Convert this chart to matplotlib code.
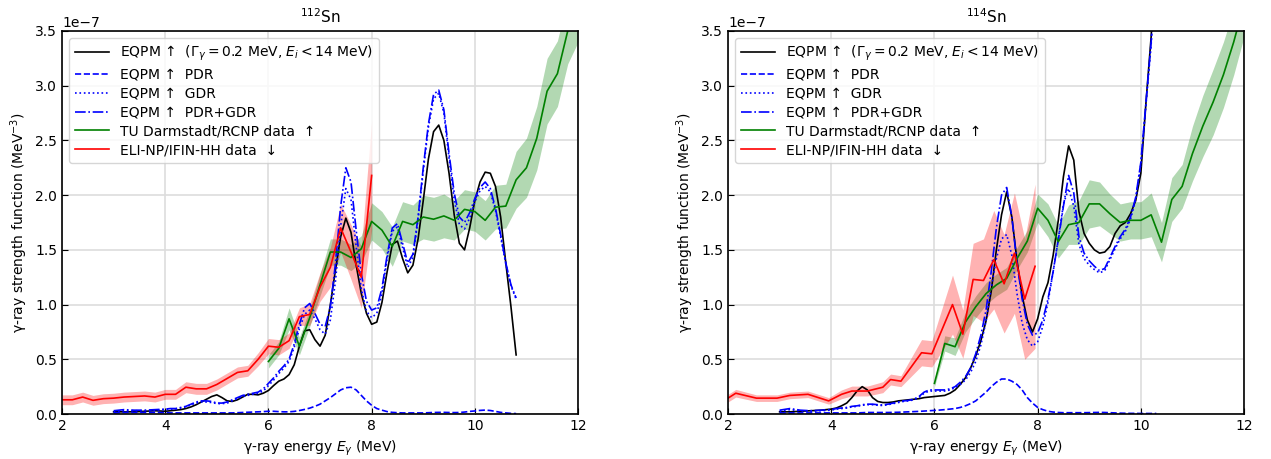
import numpy as np
import matplotlib
matplotlib.use("Agg")
import matplotlib.pyplot as plt

# ---------------- data: 112Sn (left) ----------------
E_th_112 = [3.0, 3.2, 3.4, 3.6, 3.8,
            4.0, 4.1, 4.2, 4.3, 4.4, 4.5, 4.6, 4.7, 4.8, 4.9,
            5.0, 5.1, 5.2, 5.3, 5.4, 5.5, 5.6, 5.7, 5.8, 5.9,
            6.0, 6.1, 6.2, 6.3, 6.4, 6.5, 6.6, 6.7, 6.8, 6.9,
            7.0, 7.1, 7.2, 7.3, 7.4, 7.5, 7.6, 7.7, 7.8, 7.9,
            8.0, 8.1, 8.2, 8.3, 8.4, 8.5, 8.6, 8.7, 8.8, 8.9,
            9.0, 9.1, 9.2, 9.3, 9.4, 9.5, 9.6, 9.7, 9.8, 9.9,
            10.0, 10.1, 10.2, 10.3, 10.4, 10.5, 10.6, 10.7, 10.8]
eqpm_112 = [0.02, 0.02, 0.02, 0.025, 0.03,
            0.025, 0.03, 0.035, 0.04, 0.05, 0.065, 0.085, 0.11, 0.135, 0.16,
            0.175, 0.15, 0.12, 0.115, 0.13, 0.155, 0.18, 0.18, 0.175, 0.19,
            0.215, 0.26, 0.30, 0.32, 0.36, 0.45, 0.62, 0.76, 0.77, 0.68,
            0.62, 0.72, 1.00, 1.32, 1.62, 1.79, 1.66, 1.36, 1.10, 0.92,
            0.82, 0.84, 1.02, 1.30, 1.55, 1.58, 1.42, 1.29, 1.36, 1.60,
            1.95, 2.33, 2.58, 2.64, 2.50, 2.20, 1.82, 1.56, 1.50, 1.70,
            1.95, 2.12, 2.21, 2.20, 2.08, 1.80, 1.38, 0.98, 0.54]
pdr_112 = [0.01, 0.015, 0.015, 0.015, 0.015,
           0.012, 0.01, 0.01, 0.01, 0.01, 0.01, 0.01, 0.01, 0.01, 0.01,
           0.01, 0.01, 0.01, 0.01, 0.012, 0.014, 0.016, 0.018, 0.02, 0.022,
           0.025, 0.025, 0.022, 0.02, 0.02, 0.024, 0.032, 0.042, 0.054, 0.07,
           0.09, 0.12, 0.15, 0.185, 0.22, 0.24, 0.245, 0.22, 0.17, 0.12,
           0.08, 0.05, 0.035, 0.022, 0.015, 0.012, 0.01, 0.01, 0.01, 0.01,
           0.01, 0.012, 0.014, 0.015, 0.015, 0.014, 0.013, 0.014, 0.018, 0.024,
           0.028, 0.033, 0.036, 0.032, 0.024, 0.015, 0.01, 0.006, 0.004]
gdr_112 = [0.02, 0.03, 0.03, 0.03, 0.035,
           0.04, 0.045, 0.045, 0.055, 0.065, 0.085, 0.10, 0.11, 0.11, 0.105,
           0.095, 0.095, 0.10, 0.12, 0.14, 0.16, 0.17, 0.18, 0.19, 0.21,
           0.26, 0.31, 0.37, 0.42, 0.48, 0.61, 0.78, 0.91, 0.95, 0.87,
           0.77, 0.73, 0.86, 1.22, 1.72, 2.06, 1.96, 1.53, 1.14, 0.94,
           0.88, 0.92, 1.10, 1.42, 1.67, 1.71, 1.52, 1.34, 1.43, 1.78,
           2.22, 2.62, 2.88, 2.93, 2.75, 2.34, 1.96, 1.73, 1.69, 1.79,
           1.94, 2.04, 2.08, 2.03, 1.86, 1.62, 1.37, 1.17, 1.05]
sum_112 = [0.03, 0.04, 0.035, 0.035, 0.04,
           0.045, 0.05, 0.05, 0.06, 0.07, 0.09, 0.11, 0.12, 0.12, 0.115,
           0.10, 0.10, 0.11, 0.13, 0.15, 0.17, 0.18, 0.19, 0.20, 0.23,
           0.28, 0.33, 0.39, 0.44, 0.50, 0.64, 0.82, 0.97, 1.01, 0.92,
           0.82, 0.80, 0.98, 1.38, 1.90, 2.25, 2.12, 1.68, 1.28, 1.03,
           0.95, 0.97, 1.15, 1.45, 1.70, 1.74, 1.56, 1.38, 1.46, 1.80,
           2.25, 2.65, 2.92, 2.96, 2.78, 2.38, 2.02, 1.80, 1.75, 1.84,
           1.97, 2.07, 2.12, 2.06, 1.88, 1.64, 1.38, 1.18, 1.06]

E_tu_112 = [6.0, 6.2, 6.4, 6.6, 6.8, 7.0, 7.2, 7.4, 7.6, 7.8, 8.0, 8.2, 8.4, 8.6, 8.8,
            9.0, 9.2, 9.4, 9.6, 9.8, 10.0, 10.2, 10.4, 10.6, 10.8, 11.0, 11.2, 11.4,
            11.6, 11.8, 12.0]
tu_112 = [0.48, 0.60, 0.87, 0.62, 0.88, 1.18, 1.48, 1.48, 1.43, 1.51, 1.76, 1.68, 1.53,
          1.76, 1.73, 1.80, 1.78, 1.81, 1.77, 1.87, 1.85, 1.77, 1.89, 1.90, 2.14, 2.25,
          2.52, 2.95, 3.11, 3.50, 3.70]
tu_err_112 = [0.06, 0.06, 0.10, 0.08, 0.08, 0.10, 0.12, 0.12, 0.12, 0.12, 0.17, 0.17,
              0.18, 0.18, 0.18, 0.2, 0.2, 0.2, 0.18, 0.18, 0.18, 0.18, 0.2, 0.2, 0.26,
              0.27, 0.29, 0.3, 0.3, 0.3, 0.3]

E_eli_112 = [2.0, 2.2, 2.4, 2.6, 2.8, 3.0, 3.2, 3.4, 3.6, 3.8, 4.0, 4.2, 4.4, 4.6, 4.8,
             5.0, 5.2, 5.4, 5.6, 5.8, 6.0, 6.2, 6.4, 6.6, 6.8, 7.0, 7.2, 7.4, 7.6, 7.8, 8.0]
eli_112 = [0.13, 0.13, 0.155, 0.125, 0.14, 0.145, 0.155, 0.16, 0.165, 0.155, 0.18, 0.18,
           0.245, 0.23, 0.23, 0.27, 0.325, 0.38, 0.395, 0.50, 0.62, 0.61, 0.67, 0.89,
           0.91, 1.16, 1.34, 1.70, 1.48, 1.25, 2.18]
eli_err_112 = [0.045, 0.045, 0.045, 0.045, 0.045, 0.045, 0.045, 0.045, 0.045, 0.045,
               0.045, 0.045, 0.05, 0.05, 0.05, 0.05, 0.05, 0.05, 0.05, 0.06, 0.07, 0.07,
               0.07, 0.08, 0.10, 0.13, 0.18, 0.22, 0.25, 0.28, 0.5]

# ---------------- data: 114Sn (right) ----------------
E_th_114 = [3.0, 3.2, 3.4, 3.6, 3.8,
            4.0, 4.1, 4.2, 4.3, 4.4, 4.5, 4.6, 4.7, 4.8, 4.9,
            5.0, 5.1, 5.2, 5.3, 5.4, 5.5, 5.6, 5.7, 5.8, 5.9,
            6.0, 6.1, 6.2, 6.3, 6.4, 6.5, 6.6, 6.7, 6.8, 6.9,
            7.0, 7.1, 7.2, 7.3, 7.4, 7.5, 7.6, 7.7, 7.8, 7.9,
            8.0, 8.1, 8.2, 8.3, 8.4, 8.5, 8.6, 8.7, 8.8, 8.9,
            9.0, 9.1, 9.2, 9.3, 9.4, 9.5, 9.6, 9.7, 9.8, 9.9,
            10.0, 10.1, 10.2, 10.3]
eqpm_114 = [0.02, 0.02, 0.025, 0.03, 0.035,
            0.045, 0.055, 0.075, 0.10, 0.15, 0.21, 0.25, 0.22, 0.15, 0.115,
            0.105, 0.105, 0.11, 0.12, 0.125, 0.13, 0.135, 0.14, 0.15, 0.155,
            0.16, 0.165, 0.17, 0.19, 0.22, 0.27, 0.33, 0.42, 0.53, 0.67,
            0.85, 1.12, 1.50, 1.82, 2.03, 1.80, 1.40, 1.08, 0.86, 0.75,
            0.87, 1.07, 1.20, 1.45, 1.77, 2.17, 2.45, 2.32, 1.85, 1.65,
            1.56, 1.50, 1.47, 1.48, 1.53, 1.65, 1.72, 1.75, 1.83, 1.95,
            2.20, 2.85, 3.45, 4.30]
pdr_114 = [0.01, 0.01, 0.01, 0.01, 0.01,
           0.01, 0.01, 0.01, 0.01, 0.01, 0.01, 0.012, 0.014, 0.014, 0.014,
           0.014, 0.014, 0.015, 0.016, 0.018, 0.02, 0.022, 0.024, 0.027, 0.03,
           0.033, 0.036, 0.04, 0.045, 0.05, 0.06, 0.075, 0.095, 0.12, 0.16,
           0.20, 0.25, 0.29, 0.32, 0.32, 0.30, 0.27, 0.22, 0.15, 0.10,
           0.06, 0.04, 0.025, 0.018, 0.014, 0.012, 0.012, 0.012, 0.012, 0.012,
           0.013, 0.014, 0.015, 0.014, 0.012, 0.01, 0.008, 0.007, 0.006, 0.006,
           0.005, 0.005, 0.005, 0.005]
gdr_114 = [0.025, 0.04, 0.03, 0.025, 0.03,
           0.035, 0.045, 0.05, 0.055, 0.065, 0.07, 0.08, 0.085, 0.085, 0.08,
           0.078, 0.085, 0.095, 0.105, 0.115, 0.12, 0.13, 0.15, 0.19, 0.21,
           0.21, 0.21, 0.21, 0.22, 0.24, 0.27, 0.31, 0.38, 0.48, 0.63,
           0.85, 1.15, 1.42, 1.60, 1.64, 1.45, 1.10, 0.83, 0.68, 0.62,
           0.66, 0.80, 1.02, 1.30, 1.60, 1.92, 2.06, 1.90, 1.55, 1.42,
           1.36, 1.32, 1.29, 1.31, 1.41, 1.51, 1.60, 1.67, 1.78, 1.96,
           2.28, 2.83, 3.38, 4.20]
sum_114 = [0.035, 0.05, 0.035, 0.03, 0.035,
           0.04, 0.05, 0.055, 0.06, 0.07, 0.075, 0.085, 0.09, 0.09, 0.085,
           0.083, 0.09, 0.10, 0.11, 0.12, 0.125, 0.135, 0.16, 0.20, 0.22,
           0.22, 0.22, 0.22, 0.23, 0.25, 0.29, 0.34, 0.42, 0.55, 0.72,
           0.95, 1.30, 1.70, 2.00, 2.07, 1.80, 1.38, 1.05, 0.82, 0.72,
           0.74, 0.86, 1.05, 1.30, 1.59, 1.90, 2.18, 2.02, 1.62, 1.47,
           1.40, 1.35, 1.31, 1.33, 1.43, 1.53, 1.62, 1.69, 1.80, 1.98,
           2.30, 2.85, 3.40, 4.20]

E_tu_114 = [6.0, 6.2, 6.4, 6.6, 6.8, 7.0, 7.2, 7.4, 7.6, 7.8, 8.0, 8.2, 8.4, 8.6, 8.8,
            9.0, 9.2, 9.4, 9.6, 9.8, 10.0, 10.2, 10.4, 10.6, 10.8, 11.0, 11.2, 11.4,
            11.6, 11.8, 12.0]
tu_114 = [0.28, 0.645, 0.615, 0.84, 0.98, 1.10, 1.18, 1.24, 1.42, 1.58, 1.88, 1.77,
          1.575, 1.73, 1.75, 1.92, 1.92, 1.83, 1.75, 1.77, 1.77, 1.82, 1.57, 1.96, 2.08,
          2.38, 2.63, 2.85, 3.10, 3.40, 3.75]
tu_err_114 = [0.03, 0.07, 0.08, 0.09, 0.1, 0.1, 0.1, 0.1, 0.1, 0.1, 0.13, 0.15, 0.15,
              0.18, 0.2, 0.22, 0.2, 0.18, 0.17, 0.17, 0.17, 0.2, 0.18, 0.2, 0.2, 0.25,
              0.28, 0.3, 0.3, 0.3, 0.3]

E_eli_114 = [2.0, 2.15, 2.55, 2.95, 3.2, 3.55, 3.95, 4.2, 4.4, 4.7, 5.0, 5.15, 5.35,
             5.75, 5.95, 6.35, 6.55, 6.75, 6.95, 7.15, 7.35, 7.55, 7.75, 7.95]
eli_114 = [0.145, 0.19, 0.145, 0.145, 0.17, 0.18, 0.12, 0.18, 0.21, 0.21, 0.245, 0.315,
           0.30, 0.56, 0.55, 1.00, 0.73, 1.23, 1.22, 1.41, 1.19, 1.47, 1.05, 1.35]
eli_err_114 = [0.035, 0.035, 0.03, 0.03, 0.03, 0.03, 0.03, 0.04, 0.045, 0.045, 0.05,
               0.05, 0.05, 0.12, 0.12, 0.27, 0.22, 0.33, 0.38, 0.45, 0.45, 0.55, 0.55, 0.75]

labels = ["EQPM ↑  ($\\Gamma_\\gamma = 0.2$ MeV, $E_i < 14$ MeV)",
          "EQPM ↑  PDR", "EQPM ↑  GDR", "EQPM ↑  PDR+GDR",
          "TU Darmstadt/RCNP data  ↑", "ELI-NP/IFIN-HH data  ↓"]
titles = ["$^{112}$Sn", "$^{114}$Sn"]

SC = 1e-7

panels = [
    dict(E_th=E_th_112, eqpm=eqpm_112, pdr=pdr_112, gdr=gdr_112, sm=sum_112,
         E_tu=E_tu_112, tu=tu_112, tu_err=tu_err_112,
         E_eli=E_eli_112, eli=eli_112, eli_err=eli_err_112),
    dict(E_th=E_th_114, eqpm=eqpm_114, pdr=pdr_114, gdr=gdr_114, sm=sum_114,
         E_tu=E_tu_114, tu=tu_114, tu_err=tu_err_114,
         E_eli=E_eli_114, eli=eli_114, eli_err=eli_err_114),
]

fig = plt.figure(figsize=(12.71, 4.59), dpi=100)
axes = [fig.add_axes([0.0488, 0.098, 0.406, 0.8345]),
        fig.add_axes([0.5728, 0.098, 0.406, 0.8345])]

for ax, p, title in zip(axes, panels, titles):
    E_th = np.array(p["E_th"])
    ax.plot(E_th, np.array(p["eqpm"]) * SC, color="black", lw=1.2, label=labels[0])
    ax.plot(E_th, np.array(p["pdr"]) * SC, color="blue", ls="--", lw=1.2, label=labels[1])
    ax.plot(E_th, np.array(p["gdr"]) * SC, color="blue", ls=":", lw=1.2, label=labels[2])
    ax.plot(E_th, np.array(p["sm"]) * SC, color="blue", ls="-.", lw=1.2, label=labels[3])

    Et = np.array(p["E_tu"]); vt = np.array(p["tu"]); et = np.array(p["tu_err"])
    ax.fill_between(Et, (vt - et) * SC, (vt + et) * SC, color="green", alpha=0.3, lw=0)
    ax.plot(Et, vt * SC, color="green", lw=1.2, label=labels[4])

    Ee = np.array(p["E_eli"]); ve = np.array(p["eli"]); ee = np.array(p["eli_err"])
    ax.fill_between(Ee, (ve - ee) * SC, (ve + ee) * SC, color="red", alpha=0.3, lw=0)
    ax.plot(Ee, ve * SC, color="red", lw=1.2, label=labels[5])

    ax.set_xlim(2, 12)
    ax.set_ylim(0, 3.5e-7)
    ax.set_xticks([2, 4, 6, 8, 10, 12])
    ax.set_yticks(np.arange(0, 3.51e-7, 0.5e-7))
    ax.grid(True, color="#dddddd", lw=1.2)
    ax.set_axisbelow(True)
    ax.tick_params(direction="in", labelsize=10, length=4)
    for s in ax.spines.values():
        s.set_linewidth(1.2)
    ax.set_xlabel("γ-ray energy $E_\\gamma$ (MeV)", fontsize=10)
    ax.set_ylabel("γ-ray strength function (MeV$^{-3}$)", fontsize=10)
    ax.set_title(title, fontsize=11)
    ax.legend(loc="upper left", fontsize=10, framealpha=0.8, handlelength=2.5,
              borderaxespad=0.5, labelspacing=0.35)

fig.savefig("out.png", dpi=100)
